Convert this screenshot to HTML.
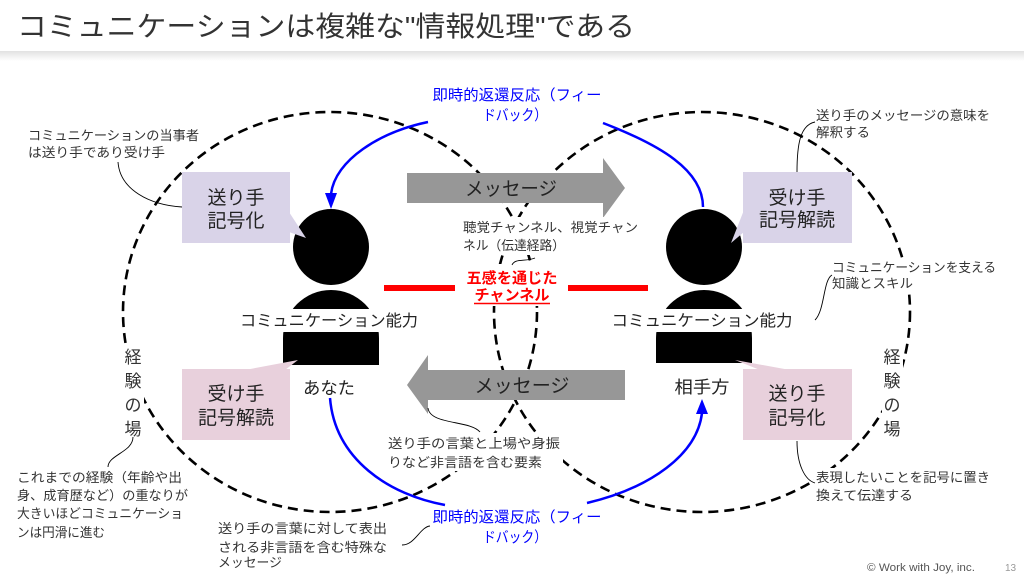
<!DOCTYPE html>
<html><head><meta charset="utf-8"><style>html,body{margin:0;padding:0;background:#fff;}svg{display:block;}</style></head>
<body>
<svg width="1024" height="576" viewBox="0 0 1024 576" xmlns="http://www.w3.org/2000/svg" font-family="'Liberation Sans','Noto Sans CJK JP',sans-serif">
<defs><linearGradient id="sh" x1="0" y1="0" x2="0" y2="1"><stop offset="0" stop-color="#e2e2e2"/><stop offset="1" stop-color="#ffffff"/></linearGradient></defs>
<rect width="1024" height="576" fill="#fff"/>
<rect y="51" width="1024" height="10" fill="url(#sh)"/>
<text x="17" y="36" font-size="28" fill="#333" textLength="618" lengthAdjust="spacingAndGlyphs">コミュニケーションは複雑な"情報処理"である</text>

<!-- dashed ellipses -->
<ellipse cx="330" cy="312" rx="207" ry="200" fill="none" stroke="#000" stroke-width="2.6" stroke-dasharray="10 6"/>
<ellipse cx="702" cy="312" rx="208" ry="200" fill="none" stroke="#000" stroke-width="2.6" stroke-dasharray="10 6"/>

<!-- blue arcs -->
<g stroke="#0000ff" stroke-width="2.5" fill="none">
<path d="M428,122 C380,132 335,160 331,194"/>
<path d="M603,123 C660,145 703,170 703,207"/>
<path d="M330,398 C335,460 390,495 445,505"/>
<path d="M587,503 C650,488 697,455 702,413"/>
</g>
<polygon points="325,193 337,193 331,209" fill="#0000ff"/>
<polygon points="696,414 708,414 702,399" fill="#0000ff"/>

<!-- gray arrows -->
<polygon points="407,173 603,173 603,158 625,188 603,218 603,203 407,203" fill="#979797"/>
<polygon points="625,370 428,370 428,355 407,385 428,414 428,400 625,400" fill="#979797"/>
<text x="511" y="195" font-size="19" fill="#222" text-anchor="middle" textLength="92" lengthAdjust="spacingAndGlyphs">メッセージ</text>
<text x="522" y="392" font-size="19" fill="#222" text-anchor="middle" textLength="95" lengthAdjust="spacingAndGlyphs">メッセージ</text>

<!-- persons -->
<circle cx="331" cy="247" r="38" fill="#000"/>
<path d="M283,365 L283,338 A48,48 0 0 1 379,338 L379,365 Z" fill="#000"/>
<circle cx="704" cy="247" r="38" fill="#000"/>
<path d="M656,363 L656,338 A48,48 0 0 1 752,338 L752,363 Z" fill="#000"/>
<rect x="236" y="309" width="186" height="23" fill="#fff"/>
<rect x="607" y="309" width="190" height="23" fill="#fff"/>
<text x="329" y="326" font-size="16" fill="#222" text-anchor="middle" textLength="178" lengthAdjust="spacingAndGlyphs">コミュニケーション能力</text>
<text x="702" y="326" font-size="16" fill="#222" text-anchor="middle" textLength="181" lengthAdjust="spacingAndGlyphs">コミュニケーション能力</text>
<text x="329" y="394" font-size="17" fill="#222" text-anchor="middle" textLength="52" lengthAdjust="spacingAndGlyphs">あなた</text>
<text x="702" y="393" font-size="17" fill="#222" text-anchor="middle" textLength="55" lengthAdjust="spacingAndGlyphs">相手方</text>

<!-- callouts -->
<rect x="182" y="172" width="108" height="71" fill="#d9d3e8"/>
<polygon points="289,212 306,238 289,232" fill="#d9d3e8"/>
<text x="236" y="204" font-size="19" fill="#222" text-anchor="middle">送り手</text>
<text x="236" y="227" font-size="19" fill="#222" text-anchor="middle">記号化</text>

<rect x="743" y="172" width="109" height="71" fill="#d9d3e8"/>
<polygon points="744,210 731,243 744,232" fill="#d9d3e8"/>
<text x="797" y="204" font-size="19" fill="#222" text-anchor="middle">受け手</text>
<text x="797" y="226" font-size="19" fill="#222" text-anchor="middle">記号解読</text>

<rect x="182" y="369" width="108" height="71" fill="#e8d0dc"/>
<polygon points="245,370 298,360 285,370" fill="#e8d0dc"/>
<text x="236" y="400" font-size="19" fill="#222" text-anchor="middle">受け手</text>
<text x="236" y="424" font-size="19" fill="#222" text-anchor="middle">記号解読</text>

<rect x="743" y="369" width="109" height="71" fill="#e8d0dc"/>
<polygon points="735,360 790,370 760,370" fill="#e8d0dc"/>
<text x="797" y="400" font-size="19" fill="#222" text-anchor="middle">送り手</text>
<text x="797" y="424" font-size="19" fill="#222" text-anchor="middle">記号化</text>

<!-- red channel -->
<rect x="384" y="285" width="71" height="6" fill="#ff0000"/>
<rect x="568" y="285" width="80" height="6" fill="#ff0000"/>
<rect x="462" y="264" width="102" height="42" fill="#fff"/>
<text x="512" y="283" font-size="15" font-weight="bold" fill="#ff0000" text-anchor="middle" textLength="91" lengthAdjust="spacingAndGlyphs">五感を通じた</text>
<text x="512" y="300" font-size="15" font-weight="bold" fill="#ff0000" text-anchor="middle" textLength="75" lengthAdjust="spacingAndGlyphs">チャンネル</text>
<line x1="474" y1="303.5" x2="550" y2="303.5" stroke="#ff0000" stroke-width="1.5"/>

<!-- channel label -->
<rect x="460" y="217" width="182" height="38" fill="#fff"/>
<g font-size="13" fill="#333">
<text x="463" y="232" textLength="175" lengthAdjust="spacingAndGlyphs">聴覚チャンネル、視覚チャン</text>
<text x="463" y="250" textLength="102" lengthAdjust="spacingAndGlyphs">ネル（伝達経路）</text>
</g>

<!-- nonverbal label -->
<rect x="385" y="433" width="178" height="38" fill="#fff"/>
<g font-size="13" fill="#333">
<text x="388" y="448" textLength="172" lengthAdjust="spacingAndGlyphs">送り手の言葉と上場や身振</text>
<text x="388" y="467" textLength="154" lengthAdjust="spacingAndGlyphs">りなど非言語を含む要素</text>
</g>

<!-- white backgrounds for right annotations -->
<rect x="829" y="258" width="170" height="34" fill="#fff"/>
<rect x="814" y="468" width="180" height="36" fill="#fff"/>

<!-- 経験の場 -->
<rect x="123" y="345" width="21" height="97" fill="#fff"/>
<rect x="882" y="345" width="21" height="97" fill="#fff"/>
<g font-size="17" fill="#333" text-anchor="middle">
<text x="133" y="363">経</text><text x="133" y="387">験</text><text x="133" y="411">の</text><text x="133" y="435">場</text>
<text x="892" y="363">経</text><text x="892" y="387">験</text><text x="892" y="411">の</text><text x="892" y="435">場</text>
</g>

<!-- blue labels -->
<g font-size="15" fill="#0000ff" text-anchor="middle">
<text x="517" y="100" textLength="169" lengthAdjust="spacingAndGlyphs">即時的返還反応（フィー</text>
<text x="515" y="120" textLength="64" lengthAdjust="spacingAndGlyphs">ドバック）</text>
<text x="517" y="522" textLength="169" lengthAdjust="spacingAndGlyphs">即時的返還反応（フィー</text>
<text x="515" y="542" textLength="64" lengthAdjust="spacingAndGlyphs">ドバック）</text>
</g>

<!-- annotations -->
<g font-size="13" fill="#333">
<text x="28" y="140" textLength="171" lengthAdjust="spacingAndGlyphs">コミュニケーションの当事者</text>
<text x="28" y="157" textLength="137" lengthAdjust="spacingAndGlyphs">は送り手であり受け手</text>
<text x="816" y="120" textLength="174" lengthAdjust="spacingAndGlyphs">送り手のメッセージの意味を</text>
<text x="816" y="137" textLength="54" lengthAdjust="spacingAndGlyphs">解釈する</text>
<text x="832" y="272" textLength="164" lengthAdjust="spacingAndGlyphs">コミュニケーションを支える</text>
<text x="832" y="288" textLength="81" lengthAdjust="spacingAndGlyphs">知識とスキル</text>
<text x="17" y="482" textLength="165" lengthAdjust="spacingAndGlyphs">これまでの経験（年齢や出</text>
<text x="17" y="500" textLength="171" lengthAdjust="spacingAndGlyphs">身、成育歴など）の重なりが</text>
<text x="17" y="518" textLength="166" lengthAdjust="spacingAndGlyphs">大きいほどコミュニケーショ</text>
<text x="17" y="537" textLength="88" lengthAdjust="spacingAndGlyphs">ンは円滑に進む</text>
<text x="218" y="533" textLength="169" lengthAdjust="spacingAndGlyphs">送り手の言葉に対して表出</text>
<text x="218" y="552" textLength="169" lengthAdjust="spacingAndGlyphs">される非言語を含む特殊な</text>
<text x="218" y="567" textLength="64" lengthAdjust="spacingAndGlyphs">メッセージ</text>
<text x="816" y="482" textLength="174" lengthAdjust="spacingAndGlyphs">表現したいことを記号に置き</text>
<text x="816" y="500" textLength="97" lengthAdjust="spacingAndGlyphs">換えて伝達する</text>
</g>

<!-- connectors -->
<g stroke="#000" stroke-width="0.9" fill="none">
<path d="M118,162 C120,190 150,205 182,207"/>
<path d="M797,172 C797,145 800,125 815,122"/>
<path d="M815,320 C825,310 823,280 832,275"/>
<path d="M133,437 C133,452 108,455 108,467"/>
<path d="M402,545 C415,545 420,527 430,526"/>
<path d="M428,408 C430,425 470,420 480,432"/>
<path d="M797,441 C797,465 805,480 815,483"/>
<path d="M512,265 C515,258 525,262 535,258"/>
</g>

<!-- footer -->
<text x="867" y="571" font-size="11" fill="#555" textLength="108" lengthAdjust="spacingAndGlyphs">© Work with Joy, inc.</text>
<text x="1005" y="571" font-size="10" fill="#999">13</text>
</svg>
</body></html>
